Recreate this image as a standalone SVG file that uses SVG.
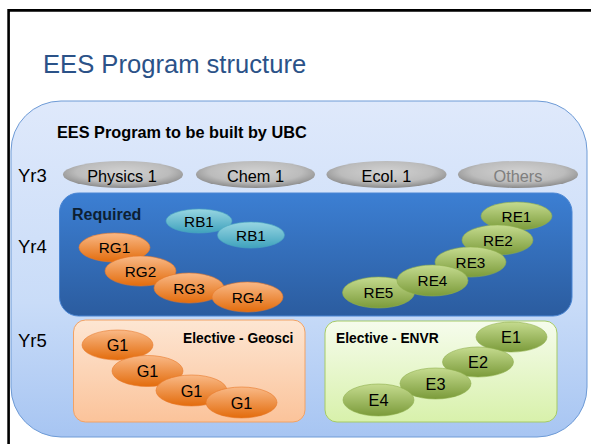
<svg xmlns="http://www.w3.org/2000/svg" width="591" height="444" viewBox="0 0 591 444">
<defs>
<linearGradient id="gOuter" x1="0" y1="0" x2="0" y2="1"><stop offset="0" stop-color="#dfe9fb"/><stop offset="0.6" stop-color="#c9dcf8"/><stop offset="1" stop-color="#a7c5f2"/></linearGradient>
<linearGradient id="gBlue" x1="0" y1="0" x2="0" y2="1"><stop offset="0" stop-color="#3c7fd3"/><stop offset="1" stop-color="#2b5c9f"/></linearGradient>
<linearGradient id="gOrBox" x1="0" y1="0" x2="0" y2="1"><stop offset="0" stop-color="#fde6d3"/><stop offset="1" stop-color="#fbc39a"/></linearGradient>
<linearGradient id="gGrBox" x1="0" y1="0" x2="0" y2="1"><stop offset="0" stop-color="#f6fced"/><stop offset="1" stop-color="#d8f1ab"/></linearGradient>
<radialGradient id="gGray" cx="0.5" cy="0.4" r="0.6"><stop offset="0" stop-color="#d2d2d2"/><stop offset="0.65" stop-color="#bcbcbc"/><stop offset="1" stop-color="#8a8a8a"/></radialGradient>
<linearGradient id="gOr" x1="0" y1="0" x2="0" y2="1"><stop offset="0" stop-color="#f9b987"/><stop offset="1" stop-color="#e36c0c"/></linearGradient>
<linearGradient id="gGr" x1="0" y1="0" x2="0" y2="1"><stop offset="0" stop-color="#c5db8f"/><stop offset="1" stop-color="#7b9b3a"/></linearGradient>
<linearGradient id="gTe" x1="0" y1="0" x2="0" y2="1"><stop offset="0" stop-color="#98d6e2"/><stop offset="1" stop-color="#3fa2bd"/></linearGradient>
</defs>
<style>
text{font-family:"Liberation Sans",Arial,sans-serif;}
.yr{font-size:18.5px;fill:#000;}
.lbl{font-size:16.3px;fill:#000;text-anchor:middle;}
.sm{font-size:15.3px;fill:#000;text-anchor:middle;}
.hd{font-weight:bold;fill:#000;}
.gray{fill:url(#gGray);}
.or{fill:url(#gOr);stroke:#e8792a;stroke-width:0.6;}
.gr{fill:url(#gGr);stroke:#8fae4e;stroke-width:0.6;}
.te{fill:url(#gTe);stroke:#4aa8c0;stroke-width:0.6;}
</style>
<rect width="591" height="444" fill="#fff"/>
<path d="M8.6,444 V10.4 H591" fill="none" stroke="#000" stroke-width="2.6"/>
<text x="43" y="72.5" font-size="25.6" fill="#2b5288">EES Program structure</text>

<g id="program">
<rect x="11" y="101" width="576" height="336" rx="50" ry="50" fill="url(#gOuter)" stroke="#6e9bd6" stroke-width="1"/>
<text class="hd" x="57" y="138" font-size="16.3">EES Program to be built by UBC</text>
</g>

<text class="yr" x="18" y="182">Yr3</text>
<text class="yr" x="18" y="253">Yr4</text>
<text class="yr" x="18" y="347">Yr5</text>

<g id="physics1"><ellipse class="gray" cx="123" cy="174.5" rx="60" ry="13.5"/><text class="lbl" x="122" y="182">Physics 1</text></g>
<g id="chem1"><ellipse class="gray" cx="255.5" cy="174.5" rx="59.5" ry="13.5"/><text class="lbl" x="255.5" y="181.5">Chem 1</text></g>
<g id="ecol1"><ellipse class="gray" cx="386.5" cy="174.5" rx="60" ry="13.5"/><text class="lbl" x="386.5" y="181.5">Ecol. 1</text></g>
<g id="others"><ellipse class="gray" cx="518" cy="174.5" rx="60" ry="13.5"/><text class="lbl" x="518" y="181.5" style="fill:#7f7f7f">Others</text></g>

<g id="required">
<rect x="59.5" y="193" width="512.5" height="123" rx="19" ry="19" fill="url(#gBlue)" stroke="#4a86d4" stroke-width="1"/>
<text class="hd" x="72" y="220" font-size="16" style="fill:#0d1f33">Required</text>
</g>
<g id="rb1a"><ellipse class="te" cx="199" cy="221" rx="33" ry="12"/><text class="sm" x="199" y="226.5">RB1</text></g>
<g id="rb1b"><ellipse class="te" cx="251" cy="235" rx="33.5" ry="13"/><text class="sm" x="251" y="240.5">RB1</text></g>
<g id="rg1"><ellipse class="or" cx="114.5" cy="247.5" rx="35.5" ry="14.5"/><text class="sm" x="114.5" y="253">RG1</text></g>
<g id="rg2"><ellipse class="or" cx="140.5" cy="271" rx="35.5" ry="15"/><text class="sm" x="140.5" y="276.5">RG2</text></g>
<g id="rg3"><ellipse class="or" cx="189" cy="288" rx="35" ry="15"/><text class="sm" x="189" y="293.5">RG3</text></g>
<g id="rg4"><ellipse class="or" cx="247.5" cy="297" rx="35.5" ry="15"/><text class="sm" x="247.5" y="302.5">RG4</text></g>
<g id="re1"><ellipse class="gr" cx="516.5" cy="216" rx="35.5" ry="14"/><text class="sm" x="516.5" y="221.5">RE1</text></g>
<g id="re2"><ellipse class="gr" cx="497.5" cy="240" rx="35.5" ry="15"/><text class="sm" x="498" y="245.5">RE2</text></g>
<g id="re3"><ellipse class="gr" cx="470.5" cy="262" rx="35.5" ry="15"/><text class="sm" x="470.5" y="267.5">RE3</text></g>
<g id="re5"><ellipse class="gr" cx="378.5" cy="292.5" rx="36" ry="15.5"/><text class="sm" x="378.5" y="298">RE5</text></g>
<g id="re4"><ellipse class="gr" cx="432.5" cy="280.5" rx="35.5" ry="15.5"/><text class="sm" x="432.5" y="286">RE4</text></g>

<g id="geosci">
<rect x="73.5" y="320" width="231.5" height="102" rx="12" ry="12" fill="url(#gOrBox)" stroke="#f2a264" stroke-width="1"/>
<text class="hd" x="183" y="343" font-size="13.8">Elective - Geosci</text>
</g>
<g id="g1a"><ellipse class="or" cx="117.5" cy="345" rx="35.5" ry="15"/><text class="lbl" x="117.5" y="351">G1</text></g>
<g id="g1b"><ellipse class="or" cx="147.5" cy="371" rx="35.5" ry="15.5"/><text class="lbl" x="147.5" y="377">G1</text></g>
<g id="g1c"><ellipse class="or" cx="191.5" cy="390.5" rx="35.5" ry="15.5"/><text class="lbl" x="191.5" y="396.5">G1</text></g>
<g id="g1d"><ellipse class="or" cx="241.5" cy="402.5" rx="35.5" ry="15.5"/><text class="lbl" x="241.5" y="408.5">G1</text></g>

<g id="envr">
<rect x="325" y="321" width="232" height="101" rx="12" ry="12" fill="url(#gGrBox)" stroke="#a6cb66" stroke-width="1"/>
<text class="hd" x="336" y="343" font-size="13.8">Elective - ENVR</text>
</g>
<g id="e1"><ellipse class="gr" cx="511.5" cy="337" rx="35.5" ry="15"/><text class="lbl" x="511" y="343">E1</text></g>
<g id="e2"><ellipse class="gr" cx="478" cy="362" rx="35.5" ry="15"/><text class="lbl" x="478" y="368">E2</text></g>
<g id="e3"><ellipse class="gr" cx="435.5" cy="383.5" rx="35.5" ry="15.5"/><text class="lbl" x="435.5" y="389.5">E3</text></g>
<g id="e4"><ellipse class="gr" cx="378.5" cy="400" rx="35.5" ry="16"/><text class="lbl" x="378.5" y="406">E4</text></g>
<g id="connectors"/>
</svg>
